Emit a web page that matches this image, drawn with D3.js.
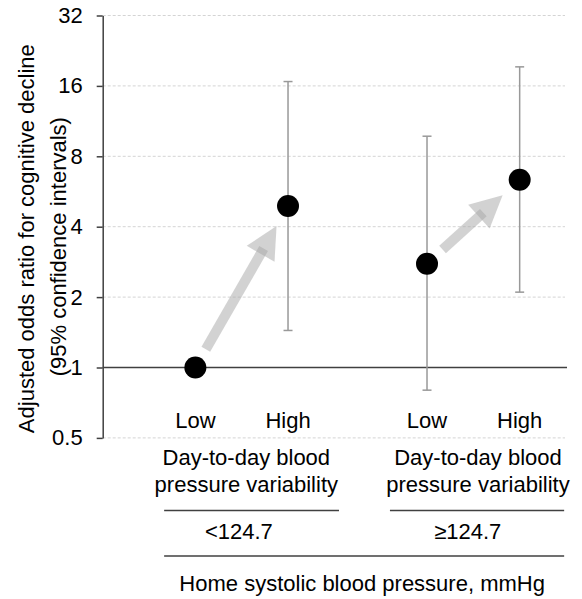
<!DOCTYPE html>
<html>
<head>
<meta charset="utf-8">
<script src="https://cdn.jsdelivr.net/npm/d3@7"></script>
<style>
  html, body { margin: 0; padding: 0; background: #fff; }
  svg { display: block; font-family: "Liberation Sans", Arial, sans-serif; }
</style>
</head>
<body>
<svg id="chart" width="582" height="599"></svg>
<script>
// Odds ratios for cognitive decline by home SBP group and day-to-day variability
const categories = ["Low", "High", "Low", "High"];
const oddsRatio = [1, 4.9, 2.78, 6.35];
const ciLower = [null, 1.44, 0.80, 2.10];
const ciUpper = [null, 16.7, 9.75, 19.3];
const yTicks = [0.5, 1, 2, 4, 8, 16, 32];
const groupLabels = ["<124.7", "\u2265124.7"];
const groupTitle = ["Day-to-day blood", "pressure variability"];
const xTitle = "Home systolic blood pressure, mmHg";
const yTitle = ["Adjusted odds ratio for cognitive decline", "(95% confidence intervals)"];

// slot of each category along the x axis (two groups with a wider gap between them)
const slot = [1, 2, 3.5, 4.5];

const svg = d3.select("#chart");
const fontSize = 22;

const x = d3.scaleLinear().domain([0, 5]).range([102.7, 566]);
const y = d3.scaleLog().base(2).domain([0.5, 32]).range([437.9, 15.5]);

// dashed gridlines (the reference line at 1 is drawn solid)
svg.append("g")
  .selectAll("line")
  .data(yTicks.filter(t => t !== 1))
  .join("line")
  .attr("x1", x(0)).attr("x2", x(5) - 1)
  .attr("y1", d => y(d)).attr("y2", d => y(d))
  .attr("stroke", "#d4d4d4")
  .attr("stroke-width", 1)
  .attr("stroke-dasharray", "3,2");

// y axis
const yAxis = d3.axisLeft(y)
  .tickValues(yTicks)
  .tickFormat(d3.format("~g"))
  .tickSize(6)
  .tickPadding(14)
  .tickSizeOuter(0);

const ga = svg.append("g")
  .attr("transform", `translate(${x(0)},0)`)
  .call(yAxis);
ga.select(".domain").attr("stroke", "#404040").attr("stroke-width", 1.5);
ga.selectAll(".tick line").attr("stroke", "#404040").attr("stroke-width", 1.5);
ga.selectAll(".tick text")
  .attr("font-size", fontSize)
  .attr("font-family", "Liberation Sans, Arial, sans-serif")
  .attr("fill", "#000");

// reference line at odds ratio 1
svg.append("line")
  .attr("x1", x(0)).attr("x2", x(5) + 1)
  .attr("y1", y(1)).attr("y2", y(1))
  .attr("stroke", "#404040")
  .attr("stroke-width", 1.5);

// y title (two lines, rotated)
const yt = svg.append("text")
  .attr("transform", `translate(34,${y(Math.sqrt(0.5 * 32)) + 12}) rotate(-90)`)
  .attr("text-anchor", "middle")
  .attr("font-size", fontSize)
  .attr("fill", "#000");
yt.selectAll("tspan")
  .data(yTitle)
  .join("tspan")
  .attr("x", (d, i) => i === 0 ? 0 : -8)
  .attr("dy", (d, i) => i === 0 ? 0 : 32)
  .text(d => d);

// trend arrows from Low to High within each group
const arrowColor = "#a6a6a6";
const arrowOpacity = 0.5;
[[0, 1], [2, 3]].forEach(([a, b]) => {
  const x0 = x(slot[a]), y0 = y(oddsRatio[a]);
  const x1 = x(slot[b]), y1 = y(oddsRatio[b]);
  const len = Math.hypot(x1 - x0, y1 - y0);
  const ux = (x1 - x0) / len, uy = (y1 - y0) / len;
  const px = -uy, py = ux;
  const startGap = 21, endGap = 23, headLen = 32, headHalf = 16, shaftHalf = 5;
  const sx = x0 + ux * startGap, sy = y0 + uy * startGap;
  const tx = x1 - ux * endGap, ty = y1 - uy * endGap;
  const bx = tx - ux * headLen, by = ty - uy * headLen;
  const ex = bx + ux * 6, ey = by + uy * 6;
  const g = svg.append("g");
  g.append("polygon")
    .attr("points", [
      [sx + px * shaftHalf, sy + py * shaftHalf],
      [ex + px * shaftHalf, ey + py * shaftHalf],
      [ex - px * shaftHalf, ey - py * shaftHalf],
      [sx - px * shaftHalf, sy - py * shaftHalf]
    ].map(p => p.join(",")).join(" "))
    .attr("fill", arrowColor).attr("fill-opacity", arrowOpacity);
  g.append("polygon")
    .attr("points", [
      [tx, ty],
      [bx + px * headHalf, by + py * headHalf],
      [bx - px * headHalf, by - py * headHalf]
    ].map(p => p.join(",")).join(" "))
    .attr("fill", arrowColor).attr("fill-opacity", arrowOpacity);
});

// confidence intervals
const ci = categories.map((c, i) => ({ i, lo: ciLower[i], hi: ciUpper[i] })).filter(d => d.lo != null);
const eg = svg.append("g").attr("stroke", "#999").attr("stroke-width", 1.5);
eg.selectAll("line.v").data(ci).join("line").attr("class", "v")
  .attr("x1", d => x(slot[d.i])).attr("x2", d => x(slot[d.i]))
  .attr("y1", d => y(d.lo)).attr("y2", d => y(d.hi));
eg.selectAll("line.cap").data(ci.flatMap(d => [{ i: d.i, v: d.lo }, { i: d.i, v: d.hi }])).join("line").attr("class", "cap")
  .attr("x1", d => x(slot[d.i]) - 4.5).attr("x2", d => x(slot[d.i]) + 4.5)
  .attr("y1", d => y(d.v)).attr("y2", d => y(d.v));

// point estimates
svg.append("g")
  .selectAll("circle")
  .data(oddsRatio)
  .join("circle")
  .attr("cx", (d, i) => x(slot[i]))
  .attr("cy", d => y(d))
  .attr("r", 11)
  .attr("fill", "#000");

// category labels
svg.append("g")
  .selectAll("text")
  .data(categories)
  .join("text")
  .attr("x", (d, i) => x(slot[i]))
  .attr("y", 428)
  .attr("text-anchor", "middle")
  .attr("font-size", fontSize)
  .text(d => d);

// group labels
const groupCenter = [1.55, 4.05];
const lineSpan = [[0.663, 2.55], [3.1, 4.98]];
const valueCenter = [1.47, 3.94];
groupCenter.forEach((gc, k) => {
  const t = svg.append("text")
    .attr("text-anchor", "middle")
    .attr("font-size", fontSize);
  t.selectAll("tspan").data(groupTitle).join("tspan")
    .attr("x", x(gc))
    .attr("y", (d, i) => 465 + i * 26.5)
    .text(d => d);
  svg.append("line")
    .attr("x1", x(lineSpan[k][0])).attr("x2", x(lineSpan[k][1]))
    .attr("y1", 510.5).attr("y2", 510.5)
    .attr("stroke", "#404040").attr("stroke-width", 1.3);
  svg.append("text")
    .attr("x", x(valueCenter[k]))
    .attr("y", 539)
    .attr("text-anchor", "middle")
    .attr("font-size", fontSize)
    .text(groupLabels[k]);
});

svg.append("line")
  .attr("x1", x(lineSpan[0][0])).attr("x2", x(lineSpan[1][1]))
  .attr("y1", 556).attr("y2", 556)
  .attr("stroke", "#404040").attr("stroke-width", 1.3);

svg.append("text")
  .attr("x", x(2.8))
  .attr("y", 591)
  .attr("text-anchor", "middle")
  .attr("font-size", fontSize)
  .text(xTitle);
</script>
</body>
</html>
